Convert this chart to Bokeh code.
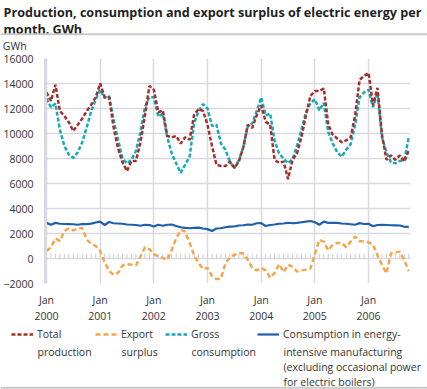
from bokeh.plotting import figure
from bokeh.models import Range1d, FixedTicker, Legend, LegendItem, Label, Span
from bokeh.layouts import column
from bokeh.embed import file_html
from bokeh.resources import INLINE

# ---------------- data (GWh per month, Jan 2000 - Oct 2006) ----------------
title_lines = ["Production, consumption and export surplus of electric energy per",
               "month. GWh"]
unit_label = "GWh"
year_labels = ["Jan\n2000", "Jan\n2001", "Jan\n2002", "Jan\n2003",
               "Jan\n2004", "Jan\n2005", "Jan\n2006"]

total_production = [
    13300, 12600, 13900, 11800, 11400, 10900, 10200, 10700, 11200, 11800, 12300, 12900,
    14000, 12900, 12900, 10500, 8800, 7700, 7000, 7800, 7800, 9300, 11400, 13800,
    13500, 11700, 11850, 9800, 9700, 9800, 9200, 9700, 9500, 11500, 11950, 11800,
    10700, 9000, 7500, 7400, 7400, 7750, 7250, 7750, 8900, 10700, 10450, 11450,
    12250, 10950, 10700, 7900, 7650, 7750, 6350, 7900, 8400, 9700, 11450, 13000,
    13400, 13400, 13600, 10700, 9900, 9600, 9300, 9450, 9700, 11450, 14300, 14600,
    14850, 12250, 13650, 9900, 7900, 8250, 7900, 8250, 7750, 8650,
]

export_surplus = [
    600, 900, 1600, 1400, 2200, 2400, 2250, 2400, 2450, 1500, 1200, 1000,
    600, -300, -1000, -1300, -1150, -550, -450, -500, -550, 150, 900, 750,
    350, 150, 50, -100, 700, 1600, 2300, 2150, 1250, 250, -350, -850,
    -750, -1400, -1650, -1600, -400, 100, 300, 450, 400, -100, -750, -950,
    -750, -950, -1550, -1150, -450, -1100, -500, -650, -1050, -950, -900, -800,
    350, 1500, 1350, 650, 1100, 1250, 1250, 900, 1350, 1750, 1400, 1350,
    1300, 1100, 250, -500, -1200, 400, 500, 550, -150, -1000,
]

gross_consumption = [
    12800, 12100, 12400, 10300, 9000, 8300, 8050, 8500, 9300, 10500, 11800, 12700,
    13500, 12850, 13000, 11100, 9500, 8000, 7600, 7900, 8600, 10100, 12100, 12900,
    12900, 11350, 11600, 9700, 8400, 7600, 6850, 7500, 8150, 10800, 11800, 12350,
    12000, 10600, 10700, 9200, 8700, 7750, 7230, 7850, 8900, 10600, 10800, 11800,
    12880, 11450, 11600, 9400, 8400, 8000, 7620, 7950, 9000, 10300, 11700, 12400,
    12740, 11850, 12450, 10100, 9200, 8500, 8150, 8700, 9150, 10700, 12900, 13300,
    13500, 12100, 13250, 9700, 8500, 7700, 7620, 7800, 7900, 9700,
]

energy_intensive = [
    2850, 2700, 2850, 2780, 2760, 2750, 2740, 2700, 2760, 2750, 2790, 2880,
    2950, 2680, 2920, 2820, 2800, 2780, 2720, 2700, 2680, 2620, 2700, 2680,
    2560, 2700, 2620, 2700, 2720, 2600, 2500, 2450, 2420, 2450, 2470, 2400,
    2350, 2200, 2400, 2420, 2500, 2550, 2560, 2640, 2660, 2720, 2700, 2820,
    2830, 2600, 2680, 2720, 2780, 2800, 2860, 2820, 2850, 2900, 2950, 3000,
    2900, 2700, 2950, 2850, 2860, 2850, 2800, 2780, 2740, 2700, 2830, 2760,
    2780, 2580, 2680, 2700, 2680, 2660, 2650, 2640, 2540, 2530,
]

series_names = [["Total", "production"],
                ["Export", "surplus"],
                ["Gross", "consumption"],
                ["Consumption in energy-", "intensive manufacturing",
                 "(excluding occasional power", "for electric boilers)"]]

months = list(range(len(total_production)))
jan_ticks = [12 * i for i in range(len(year_labels))]
y_ticks = list(range(-2000, 16001, 2000))

# ---------------- styling / layout constants ----------------
FONT = "Open Sans"
TXT = "#333333"
GRID = "#d9d9df"
RULE = "#c9c9c9"
RED = "#a3302c"
ORANGE = "#f6a54e"
TEAL = "#16a9b8"
BLUE = "#1d5ead"
STYLES = [dict(line_color=RED, line_width=2.5, line_dash="4 2"),
          dict(line_color=ORANGE, line_width=2.5, line_dash="5 3"),
          dict(line_color=TEAL, line_width=2.5, line_dash="4 2"),
          dict(line_color=BLUE, line_width=2.2)]

W = 427
H_HEAD, H_MAIN, H_LEG = 51, 275, 63
LEG_TEXT_X = [37, 121, 191, 283]      # left edge of each legend text column (px)
LEG_BASE = 11.3                       # first legend text baseline (px from strip top)
LEG_STEP = 14.6                       # legend line spacing (px)
GLYPH_W, STANDOFF, ITEM_H = 22, 4, 16


def bare(height):
    f = figure(width=W, height=height, output_backend="svg", toolbar_location=None,
               title=None, x_axis_type=None, y_axis_type=None, frame_align=False,
               x_range=Range1d(0, W), y_range=Range1d(height, 0),
               min_border_left=0, min_border_right=0, min_border_top=0, min_border_bottom=0)
    f.outline_line_color = None
    f.grid.visible = False
    return f


# ---------------- header: title, rule, unit ----------------
head = bare(H_HEAD)
for txt, base in zip(title_lines, (12.3, 29.3)):
    head.add_layout(Label(x=3, y=base, text=txt, text_font=FONT, text_font_style="bold",
                          text_font_size="12.6px", text_color="#1f1f1f",
                          text_baseline="alphabetic"))
head.add_layout(Span(location=33.8, dimension="width", line_color=RULE, line_width=2))
head.add_layout(Label(x=2.3, y=45.0, text=unit_label, text_font=FONT, text_font_size="10.5px",
                      text_color=TXT, text_baseline="alphabetic"))

# ---------------- main chart ----------------
BL, BR, BT, BB = 42, 17, 7, 34
frame_h = H_MAIN - BT - BB

p = figure(width=W, height=H_MAIN, output_backend="svg", toolbar_location=None, title=None,
           x_range=Range1d(-0.22, 81.38), y_range=Range1d(-2000, 16000),
           min_border_left=BL, min_border_right=BR, min_border_top=BT,
           min_border_bottom=BB, frame_align=False)
p.outline_line_color = None

p.xgrid.ticker = FixedTicker(ticks=jan_ticks)
p.ygrid.ticker = FixedTicker(ticks=y_ticks)
for g in (p.xgrid, p.ygrid):
    g.grid_line_color = GRID
    g.grid_line_width = 1.5

xa = p.xaxis[0]
xa.ticker = FixedTicker(ticks=jan_ticks)
xa.major_label_overrides = dict(zip(jan_ticks, year_labels))
xa.axis_line_color = None
xa.major_tick_line_color = None
xa.minor_tick_line_color = None
xa.major_label_standoff = 3
xa.major_label_text_font = FONT
xa.major_label_text_font_size = "10.5px"
xa.major_label_text_color = TXT

ya = p.yaxis[0]
ya.ticker = FixedTicker(ticks=y_ticks)
ya.axis_line_color = "#d8d8e0"
ya.axis_line_width = 3
ya.major_tick_line_color = None
ya.minor_tick_line_color = None
ya.major_label_standoff = 6
ya.major_label_text_font = FONT
ya.major_label_text_font_size = "10.5px"
ya.major_label_text_color = TXT

# small month ticks along the zero line (5 px tall)
tick_len = 5 * (18000 / frame_h)
p.segment(x0=months, y0=[0] * len(months), x1=months, y1=[tick_len] * len(months),
          line_color="#cdcdd4", line_width=1)

p.line(months, gross_consumption, **STYLES[2])
p.line(months, total_production, **STYLES[0])
p.line(months, export_surplus, **STYLES[1])
p.line(months, energy_intensive, **STYLES[3])

# ---------------- legend strip ----------------
leg = bare(H_LEG)
nan = float("nan")
item_top = LEG_BASE - 3.8 - ITEM_H / 2
for style, lines, tx in zip(STYLES, series_names, LEG_TEXT_X):
    proxy = leg.line(x=[nan], y=[nan], **style)
    lg = Legend(items=[LegendItem(label=lines[0], renderers=[proxy])],
                location=(tx - GLYPH_W - STANDOFF, H_LEG - item_top - ITEM_H),
                orientation="horizontal", glyph_width=GLYPH_W, glyph_height=ITEM_H,
                label_standoff=STANDOFF, label_height=ITEM_H, spacing=0,
                padding=0, margin=0, border_line_color=None, background_fill_alpha=0,
                label_text_font=FONT, label_text_font_size="10.5px",
                label_text_color=TXT, label_text_line_height=1.2)
    leg.add_layout(lg, "center")
    for k, extra in enumerate(lines[1:], start=1):
        leg.add_layout(Label(x=tx, y=LEG_BASE + k * LEG_STEP, text=extra, text_font=FONT,
                             text_font_size="10.5px", text_color=TXT,
                             text_baseline="alphabetic"))
leg.add_layout(Span(location=61.3, dimension="width", line_color=RULE, line_width=2))

layout = column(head, p, leg, spacing=0)

open("out.html", "w").write(file_html(layout, INLINE))
